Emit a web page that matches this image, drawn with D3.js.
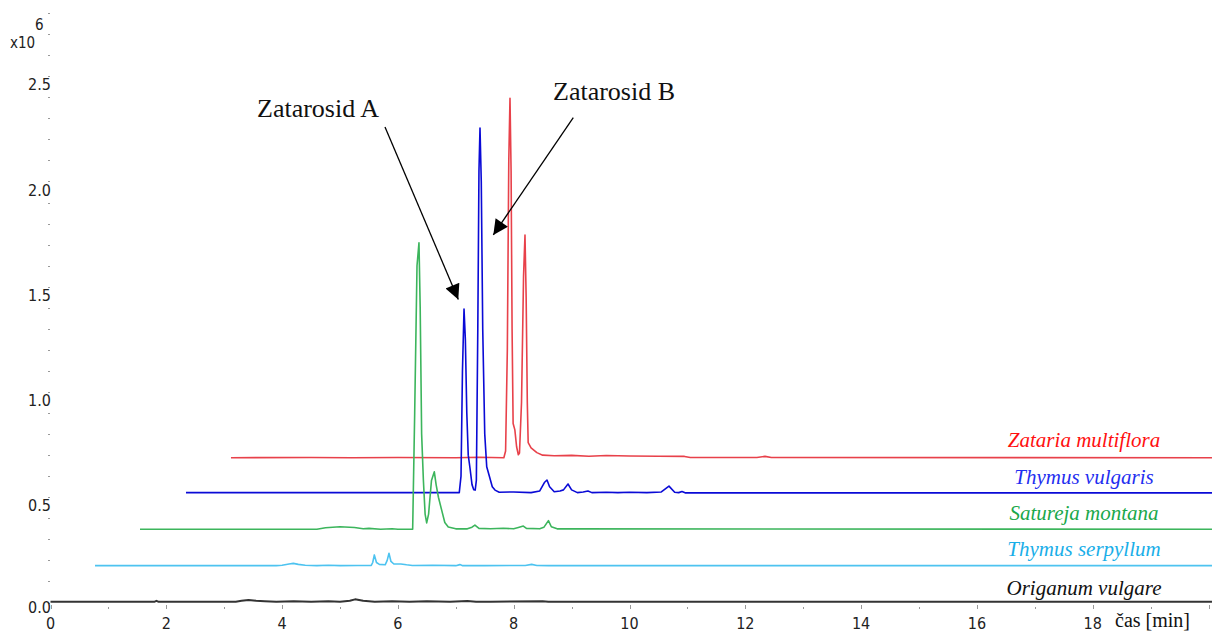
<!DOCTYPE html>
<html>
<head>
<meta charset="utf-8">
<script src="https://cdn.jsdelivr.net/npm/d3@7"></script>
<style>
  body { margin: 0; background: #fff; }
  svg { display: block; }
  .tick-label { font-family: "DejaVu Sans Condensed", "DejaVu Sans", sans-serif; font-size: 16px; fill: #222; }
  .serif { font-family: "Liberation Serif", "Times New Roman", serif; }
</style>
</head>
<body>
<svg id="chart" width="1212" height="633"></svg>
<script>
// chromatogram traces, [time (min), intensity (x10^6)]
const zatariaMultiflora = [
  [3.117,0.688],[4.5,0.689],[5.2,0.688],[6.0,0.689],[7.0,0.688],[7.4,0.690],[7.83,0.688],
  [7.86,0.72],[7.89,1.20],[7.915,2.10],[7.936,2.395],[7.955,2.05],[7.972,1.30],[7.99,0.85],
  [8.02,0.82],[8.05,0.74],[8.08,0.702],[8.10,0.71],[8.135,0.95],[8.17,1.55],[8.195,1.746],
  [8.215,1.45],[8.235,0.95],[8.25,0.76],[8.30,0.735],[8.40,0.712],[8.50,0.700],[8.7,0.697],
  [9.0,0.699],[9.3,0.695],[9.6,0.698],[10.0,0.696],[10.5,0.695],[10.95,0.694],[11.05,0.689],
  [12.2,0.689],[12.34,0.694],[12.45,0.689],[20.06,0.688]
];
const thymusVulgaris = [
  [2.340,0.522],[4.0,0.522],[5.5,0.522],[6.5,0.522],[7.06,0.522],[7.09,0.60],[7.115,1.10],
  [7.142,1.394],[7.165,1.25],[7.19,0.90],[7.215,0.70],[7.245,0.639],[7.28,0.56],[7.31,0.536],
  [7.335,0.534],[7.355,0.58],[7.38,1.30],[7.40,2.05],[7.418,2.254],[7.44,2.0],[7.465,1.30],
  [7.50,0.80],[7.534,0.645],[7.58,0.60],[7.63,0.55],[7.677,0.534],[7.75,0.524],[8.0,0.525],
  [8.3,0.522],[8.45,0.530],[8.53,0.570],[8.575,0.582],[8.62,0.550],[8.7,0.526],[8.8,0.530],
  [8.86,0.535],[8.938,0.563],[9.0,0.535],[9.1,0.522],[9.2,0.525],[9.283,0.530],[9.35,0.522],
  [9.6,0.524],[9.8,0.522],[10.0,0.524],[10.3,0.522],[10.55,0.525],[10.682,0.553],[10.78,0.524],
  [10.85,0.522],[10.907,0.527],[10.96,0.521],[20.06,0.521]
];
const saturejaMontana = [
  [1.546,0.348],[4.6,0.348],[4.75,0.355],[5.0,0.360],[5.25,0.356],[5.4,0.350],[5.5,0.352],
  [5.7,0.348],[5.9,0.350],[6.0,0.348],[6.255,0.348],[6.29,0.90],[6.33,1.60],[6.364,1.709],
  [6.385,1.40],[6.41,0.80],[6.44,0.582],[6.47,0.42],[6.497,0.378],[6.53,0.42],[6.58,0.58],
  [6.629,0.621],[6.66,0.56],[6.70,0.50],[6.756,0.439],[6.81,0.38],[6.87,0.359],[7.0,0.350],
  [7.2,0.350],[7.28,0.358],[7.33,0.368],[7.40,0.352],[7.6,0.350],[7.82,0.353],[8.0,0.350],
  [8.08,0.356],[8.166,0.363],[8.22,0.352],[8.45,0.350],[8.52,0.357],[8.60,0.389],[8.65,0.360],
  [8.75,0.350],[9.0,0.350],[20.06,0.348]
];
const thymusSerpyllum = [
  [0.769,0.175],[3.9,0.175],[4.0,0.177],[4.12,0.183],[4.194,0.186],[4.28,0.181],[4.4,0.177],
  [4.6,0.175],[4.8,0.177],[5.0,0.175],[5.3,0.176],[5.54,0.176],[5.565,0.19],[5.593,0.226],
  [5.63,0.19],[5.68,0.181],[5.78,0.179],[5.815,0.20],[5.846,0.234],[5.88,0.195],[5.93,0.183],
  [6.05,0.183],[6.15,0.179],[6.25,0.176],[6.6,0.177],[7.0,0.175],[7.07,0.180],[7.12,0.175],
  [7.5,0.175],[8.2,0.176],[8.31,0.181],[8.4,0.176],[8.6,0.175],[20.06,0.175]
];
const origanumVulgare = [
  [0,0.004],[1.8,0.004],[1.83,0.008],[1.86,0.004],[3.2,0.004],[3.3,0.008],[3.42,0.012],
  [3.55,0.008],[3.7,0.006],[3.9,0.004],[4.2,0.006],[4.5,0.004],[4.8,0.006],[5.0,0.004],
  [5.17,0.008],[5.26,0.015],[5.4,0.008],[5.6,0.004],[5.9,0.006],[6.2,0.004],[6.5,0.006],
  [6.9,0.004],[7.2,0.007],[7.35,0.004],[7.6,0.004],[8.5,0.006],[8.6,0.004],[20.06,0.004]
];

const seriesNames = ["Zataria multiflora", "Thymus vulgaris", "Satureja montana", "Thymus serpyllum", "Origanum vulgare"];
const seriesData = [zatariaMultiflora, thymusVulgaris, saturejaMontana, thymusSerpyllum, origanumVulgare];
const lineColors = ["#e8414a", "#0a0ad6", "#3cb55c", "#4dc3f0", "#333333"];
const labelColors = ["#ff1010", "#1f2ff0", "#1aa84a", "#19aee8", "#111111"];
// label position (time, intensity) for each species name
const labelPos = [[17.85, 0.74], [17.85, 0.565], [17.85, 0.39], [17.85, 0.22], [17.85, 0.035]];

const xTicks = [0, 2, 4, 6, 8, 10, 12, 14, 16, 18];
const yTicks = [0.0, 0.5, 1.0, 1.5, 2.0, 2.5];

// peak annotations: text, text position, arrow start, arrow tip
const annotations = [
  { text: "Zatarosid A", pos: [3.567, 2.306], from: [5.777, 2.259], to: [7.043, 1.440] },
  { text: "Zatarosid B", pos: [8.679, 2.387], from: [9.029, 2.303], to: [7.648, 1.746] }
];

const svg = d3.select("#chart");

const x = d3.scaleLinear().domain([0, 20]).range([50.5, 1208.5]);
const y = d3.scaleLinear().domain([0, 2.5]).range([602.5, 76.25]);

// y axis ticks - only small dots, no line
let yMinor = d3.range(0, 29).map(function(i) { return i / 10; });
svg.append("g").selectAll("line")
  .data(yMinor)
  .enter().append("line")
  .attr("x1", 48).attr("x2", 50)
  .attr("y1", function(d) { return Math.round(y(d)) + 0.5; })
  .attr("y2", function(d) { return Math.round(y(d)) + 0.5; })
  .attr("stroke", "#999").attr("stroke-width", 1);

// the 0.0 label sits a bit higher so it clears the x labels
svg.append("g").selectAll("text")
  .data(yTicks)
  .enter().append("text")
  .attr("class", "tick-label")
  .attr("x", 51)
  .attr("y", function(d) { return d == 0 ? y(d) + 10.5 : y(d) + 14; })
  .attr("text-anchor", "end")
  .text(function(d) { return d3.format(".1f")(d); });

svg.append("text").attr("class", "tick-label")
  .attr("x", 10).attr("y", 48).style("font-size", "15px").text("x10");
svg.append("text").attr("class", "tick-label")
  .attr("x", 35).attr("y", 30).style("font-size", "15px").text("6");

// x axis ticks
let xMinor = d3.range(0, 21);
svg.append("g").selectAll("line")
  .data(xMinor)
  .enter().append("line")
  .attr("x1", function(d) { return Math.round(x(d)) + 0.5; })
  .attr("x2", function(d) { return Math.round(x(d)) + 0.5; })
  .attr("y1", function(d) { return d % 2 == 0 ? 605 : 607; })
  .attr("y2", 609)
  .attr("stroke", "#999").attr("stroke-width", 1);

svg.append("g").selectAll("text")
  .data(xTicks)
  .enter().append("text")
  .attr("class", "tick-label")
  .attr("x", function(d) { return x(d); })
  .attr("y", 629)
  .attr("text-anchor", "middle")
  .text(function(d) { return d; });

svg.append("text").attr("class", "serif")
  .attr("x", 1115).attr("y", 627)
  .style("font-size", "20px").attr("fill", "#111")
  .text("čas [min]");

// traces
const line = d3.line()
  .x(function(d) { return x(d[0]); })
  .y(function(d) { return y(d[1]); });

seriesData.forEach(function(data, i) {
  svg.append("path")
    .datum(data)
    .attr("d", line)
    .attr("fill", "none")
    .attr("stroke", lineColors[i])
    .attr("stroke-width", i == 4 ? 2 : 1.6)
    .attr("stroke-linejoin", "round");

  svg.append("text")
    .attr("class", "serif")
    .attr("x", x(labelPos[i][0]))
    .attr("y", y(labelPos[i][1]))
    .attr("text-anchor", "middle")
    .style("font-size", "21px")
    .style("font-style", "italic")
    .attr("fill", labelColors[i])
    .text(seriesNames[i]);
});

// arrows for peak annotations
const defs = svg.append("defs");
defs.append("marker")
  .attr("id", "head")
  .attr("viewBox", "0 0 10 10")
  .attr("refX", 10).attr("refY", 5)
  .attr("markerWidth", 19).attr("markerHeight", 15)
  .attr("markerUnits", "userSpaceOnUse")
  .attr("orient", "auto")
  .append("path")
  .attr("d", "M0,0 L10,5 L0,10 Z")
  .attr("fill", "#000");

annotations.forEach(function(a) {
  svg.append("text")
    .attr("class", "serif")
    .attr("x", x(a.pos[0]))
    .attr("y", y(a.pos[1]))
    .style("font-size", "26px")
    .attr("fill", "#111")
    .text(a.text);

  svg.append("line")
    .attr("x1", x(a.from[0])).attr("y1", y(a.from[1]))
    .attr("x2", x(a.to[0])).attr("y2", y(a.to[1]))
    .attr("stroke", "#000").attr("stroke-width", 1.3)
    .attr("marker-end", "url(#head)");
});
</script>
</body>
</html>
